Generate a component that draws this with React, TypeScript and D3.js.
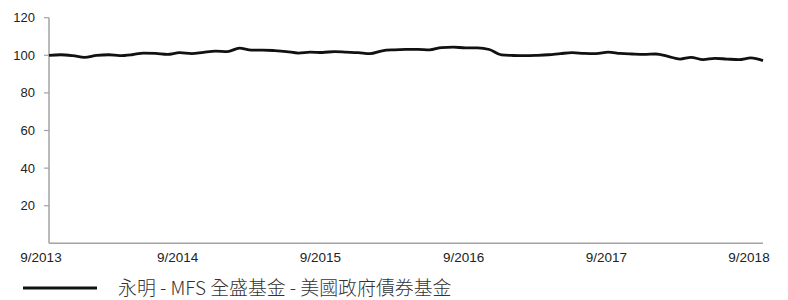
import React from "react";
import * as d3 from "d3";

const startYear = 2013;
const startMonth = 8; // September (0-based)
const values: number[] = [
  100, 100.3, 99.8, 98.9, 100, 100.3, 99.8, 100.3, 101.2, 101, 100.5, 101.4,
  100.9, 101.6, 102.2, 102, 103.8, 102.7, 102.8, 102.5, 102, 101.2, 101.7, 101.5,
  102, 101.7, 101.4, 100.9, 102.4, 102.9, 103.1, 103.1, 102.9, 104.1, 104.3, 104,
  104, 103.1, 100.2, 99.9, 99.8, 100, 100.3, 100.9, 101.4, 101, 100.9, 101.7,
  101, 100.7, 100.5, 100.7, 99.4, 98, 98.9, 97.7, 98.4, 98, 97.7, 98.6, 97.2,
];
const yTicks: number[] = [20, 40, 60, 80, 100, 120];
const xTickLabels: string[] = ["9/2013", "9/2014", "9/2015", "9/2016", "9/2017", "9/2018"];
const seriesName = "永明 - MFS 全盛基金 - 美國政府債券基金";

const W = 788;
const H = 300;
const M = { left: 49, right: 25, top: 17.7, bottom: 56.7 };

export default function App() {
  const dates = values.map((_, i) => new Date(startYear, startMonth + i, 1));
  const x = d3
    .scaleTime()
    .domain([dates[0], dates[dates.length - 1]])
    .range([M.left, W - M.right]);
  const y = d3.scaleLinear().domain([0, 120]).range([H - M.bottom, M.top]);
  const line = d3
    .line<number>()
    .x((_, i) => x(dates[i]))
    .y((d) => y(d))
    .curve(d3.curveMonotoneX);
  const tickDates = xTickLabels.map((_, k) => new Date(startYear + k, startMonth, 1));
  const axisColor = "#a3a3a3";
  const textColor = "#222";
  return (
    <svg
      width={W}
      height={H}
      style={{ position: "absolute", left: 0, top: 0, background: "#fff" }}
      fontFamily="'Liberation Sans', Arial, sans-serif"
    >
      <line x1={M.left} x2={M.left} y1={y(120)} y2={y(0)} stroke={axisColor} strokeWidth={1.5} />
      <line x1={M.left} x2={W - M.right} y1={y(0)} y2={y(0)} stroke={axisColor} strokeWidth={1.5} />
      {yTicks.map((t) => (
        <g key={t}>
          <line x1={M.left - 5} x2={M.left} y1={y(t)} y2={y(t)} stroke={axisColor} strokeWidth={1.2} />
          <text x={M.left - 14} y={y(t)} dy="0.35em" textAnchor="end" fontSize={13} fill={textColor}>
            {t}
          </text>
        </g>
      ))}
      {xTickLabels.map((lab, k) => (
        <text
          key={lab}
          x={Math.max(x(tickDates[k]) - 14, 41)}
          y={261.5}
          textAnchor="middle"
          fontSize={13.5}
          fill={textColor}
        >
          {lab}
        </text>
      ))}
      <path d={line(values) || ""} fill="none" stroke="#111" strokeWidth={2.8} strokeLinejoin="round" />
      <line x1={23} x2={97} y1={288} y2={288} stroke="#111" strokeWidth={3} />
      <text
        x={118}
        y={288.5}
        dy="0.35em"
        fontSize={18.9}
        fontWeight={300}
        fill="#333"
        fontFamily="'Noto Sans CJK TC', 'Noto Sans', sans-serif"
      >
        {seriesName}
      </text>
    </svg>
  );
}
